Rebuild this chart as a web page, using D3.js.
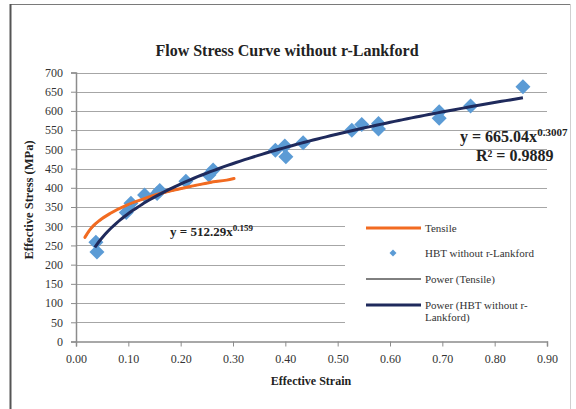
<!DOCTYPE html>
<html><head><meta charset="utf-8">
<script src="https://cdnjs.cloudflare.com/ajax/libs/d3/7.8.5/d3.min.js"></script>
<style>body{margin:0;background:#fff}svg{display:block}text{font-family:"Liberation Serif","Times New Roman",serif}</style>
</head><body>
<script>
// ---- data ----
const hbtStrain = [0.038,0.040,0.096,0.105,0.131,0.155,0.160,0.210,0.254,0.262,0.381,0.399,0.401,0.434,0.527,0.546,0.578,0.578,0.694,0.694,0.754,0.854];
const hbtStress = [258,233,336,360,381,385,393,417,433,446,498,509,481,517,550,565,567,553,598,581,613,663];
const tensileStrain = [0.017,0.025,0.033,0.045,0.065,0.097,0.129,0.161,0.190,0.224,0.256,0.288,0.302];
const tensileStress = [271,288,301,315,333,355,371,385,395,405,414,420,424];
const fitHBT = {a:665.04, b:0.3007, r2:0.9889};
const fitTensile = {a:512.29, b:0.159};
const xTicks = [0,0.1,0.2,0.3,0.4,0.5,0.6,0.7,0.8,0.9];
const yTicks = [0,50,100,150,200,250,300,350,400,450,500,550,600,650,700];
const legendLabels = ["Tensile","HBT without r-Lankford","Power (Tensile)","Power (HBT without r-Lankford)"];

const W=576,H=409;
const svg=d3.select("body").append("svg").attr("width",W).attr("height",H);
const x=d3.scaleLinear().domain([0,0.9]).range([76,547]);
const y=d3.scaleLinear().domain([0,700]).range([341.5,72.5]);

// frame
svg.append("line").attr("x1",10).attr("x2",570).attr("y1",4.5).attr("y2",4.5).attr("stroke","#7a7a7a").attr("stroke-width",1.2);
svg.append("line").attr("x1",10.5).attr("x2",10.5).attr("y1",4).attr("y2",H).attr("stroke","#555").attr("stroke-width",2);
svg.append("line").attr("x1",570.5).attr("x2",570.5).attr("y1",4).attr("y2",H).attr("stroke","#d0d0d0").attr("stroke-width",1);

// title
svg.append("text").attr("x",287).attr("y",56).attr("text-anchor","middle").attr("font-size",16).attr("font-weight","bold").attr("fill","#222").text("Flow Stress Curve without r-Lankford");

// gridlines
svg.append("g").selectAll("line").data(yTicks.filter(d=>d>0)).join("line")
 .attr("x1",76).attr("x2",547).attr("y1",d=>Math.round(y(d))+0.5).attr("y2",d=>Math.round(y(d))+0.5)
 .attr("stroke","#a6a6a6").attr("stroke-width",1);

// axes
const gy=svg.append("g").attr("transform","translate(76,0)").call(d3.axisLeft(y).tickValues(yTicks).tickSize(5).tickPadding(8).tickFormat(d3.format("d")));
const gx=svg.append("g").attr("transform","translate(0,341.5)").call(d3.axisBottom(x).tickValues(xTicks).tickSize(5).tickPadding(6).tickFormat(d3.format(".2f")));
[gx,gy].forEach(g=>{g.select(".domain").attr("stroke","#8c8c8c").attr("stroke-width",1.5);
 g.selectAll(".tick line").attr("stroke","#8c8c8c");
 g.selectAll(".tick text").attr("font-size",12).attr("fill","#333").style("font-family","Liberation Serif");});
gx.selectAll(".tick text").attr("dy","0.9em");

// axis titles
svg.append("text").attr("x",311).attr("y",385).attr("text-anchor","middle").attr("font-size",12).attr("font-weight","bold").attr("fill","#222").text("Effective Strain");
svg.append("text").attr("transform","translate(33,200) rotate(-90)").attr("text-anchor","middle").attr("font-size",12.5).attr("font-weight","bold").attr("fill","#222").text("Effective Stress (MPa)");

// legend box (covers gridlines)
svg.append("rect").attr("x",345).attr("y",213).attr("width",203).attr("height",122).attr("fill","#fff");

const diamond=(r)=>`M0,${-r}L${r},0L0,${r}L${-r},0Z`;
// HBT points
const hbt=hbtStrain.map((s,i)=>({s,v:hbtStress[i]}));
svg.append("g").selectAll("path").data(hbt).join("path")
 .attr("d",diamond(7.5)).attr("transform",d=>`translate(${x(d.s)},${y(d.v)})`).attr("fill","#5b9bd5");

// power tensile (black, thin)
const lineGen=d3.line().x(d=>x(d[0])).y(d=>y(d[1])).curve(d3.curveMonotoneX);
const fitPts=(f,x0,x1)=>d3.range(0,101).map(i=>{const t=x0+(x1-x0)*i/100;return [t,f.a*Math.pow(t,f.b)];});
svg.append("path").attr("d",lineGen(fitPts(fitTensile,0.019,0.300))).attr("fill","none").attr("stroke","#000").attr("stroke-width",0.8);
// tensile (orange)
svg.append("path").attr("d",lineGen(tensileStrain.map((s,i)=>[s,tensileStress[i]])))
 .attr("fill","none").attr("stroke","#f26b21").attr("stroke-width",3).attr("stroke-linecap","round");
// power HBT (navy)
svg.append("path").attr("d",lineGen(fitPts(fitHBT,d3.min(hbtStrain)-0.002,d3.max(hbtStrain)))).attr("fill","none").attr("stroke","#1f2a5c").attr("stroke-width",3);

// equations
const eq1=svg.append("text").attr("x",170).attr("y",236).attr("font-size",13).attr("font-weight","bold").attr("fill","#222");
eq1.append("tspan").text(`y = ${fitTensile.a.toFixed(2)}x`);
eq1.append("tspan").attr("dy",-5).attr("font-size",9).text(String(fitTensile.b));
const eq2=svg.append("text").attr("x",460).attr("y",142).attr("font-size",16).attr("font-weight","bold").attr("fill","#222");
eq2.append("tspan").text(`y = ${fitHBT.a.toFixed(2)}x`);
eq2.append("tspan").attr("dy",-6).attr("font-size",11).text(String(fitHBT.b));
svg.append("text").attr("x",476).attr("y",161).attr("font-size",16).attr("font-weight","bold").attr("fill","#222").text(`R² = ${fitHBT.r2}`);

// legend
const lg=svg.append("g");
const ly=[228,253,279,305];
lg.append("line").attr("x1",366).attr("x2",421).attr("y1",ly[0]).attr("y2",ly[0]).attr("stroke","#f26b21").attr("stroke-width",3);
lg.append("path").attr("d",diamond(3.5)).attr("transform",`translate(393,${ly[1]})`).attr("fill","#5b9bd5");
lg.append("line").attr("x1",366).attr("x2",421).attr("y1",ly[2]).attr("y2",ly[2]).attr("stroke","#000").attr("stroke-width",1);
lg.append("line").attr("x1",366).attr("x2",421).attr("y1",ly[3]).attr("y2",ly[3]).attr("stroke","#1f2a5c").attr("stroke-width",3);
const lt=(txt,yy)=>lg.append("text").attr("x",425).attr("y",yy).attr("font-size",11).attr("fill","#333").text(txt);
lt(legendLabels[0],ly[0]+4);
lt(legendLabels[1],ly[1]+4);
lt(legendLabels[2],ly[2]+4);
lt("Power (HBT without r-",ly[3]+4);
lt("Lankford)",ly[3]+16);
</script>
</body></html>
